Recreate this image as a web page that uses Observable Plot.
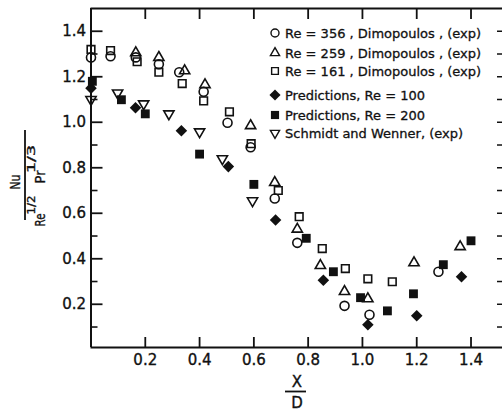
<!DOCTYPE html>
<html><head><meta charset="utf-8">
<script src="https://cdn.jsdelivr.net/npm/d3@7"></script>
<script src="https://cdn.jsdelivr.net/npm/@observablehq/plot@0.6"></script>
<style>
body{margin:0;background:#fff;}
#wrap{position:relative;width:502px;height:411px;overflow:hidden;font-family:"DejaVu Sans",sans-serif;}
#wrap svg text{stroke:#111;stroke-width:0.35px;}
#legend{position:absolute;left:268px;top:0;font-size:13px;color:#111;-webkit-text-stroke:0.3px #111;}
#legend .row{position:absolute;left:0;display:flex;align-items:center;height:18px;white-space:nowrap;transform:translateY(-9px);}
#legend svg{margin-right:3px;}
#legend svg path{stroke-width:1.4px;}
</style></head><body><div id="wrap"><div id="legend"></div></div>
<script>
// Re = 356, Dimopoulos (exp) — open circles
const re356X = [0.000, 0.072, 0.165, 0.250, 0.325, 0.415, 0.503, 0.588, 0.677, 0.760, 0.934, 1.026, 1.280];
const re356Y = [1.285, 1.290, 1.285, 1.255, 1.220, 1.134, 0.998, 0.890, 0.665, 0.470, 0.193, 0.154, 0.343];
// Re = 259 — open triangles
const re259X = [0.165, 0.250, 0.345, 0.420, 0.588, 0.677, 0.760, 0.845, 0.934, 1.020, 1.190, 1.360];
const re259Y = [1.305, 1.285, 1.226, 1.165, 0.985, 0.735, 0.530, 0.370, 0.256, 0.224, 0.382, 0.453];
// Re = 161 — open squares
const re161X = [0.000, 0.072, 0.170, 0.250, 0.336, 0.415, 0.510, 0.590, 0.690, 0.767, 0.852, 0.937, 1.020, 1.110];
const re161Y = [1.320, 1.315, 1.266, 1.220, 1.170, 1.094, 1.046, 0.906, 0.700, 0.585, 0.445, 0.357, 0.312, 0.299];
// Predictions Re = 100 — filled diamonds
const pred100X = [0.000, 0.164, 0.333, 0.506, 0.680, 0.856, 1.020, 1.200, 1.365];
const pred100Y = [1.150, 1.064, 0.963, 0.805, 0.570, 0.306, 0.110, 0.150, 0.321];
// Predictions Re = 200 — filled squares
const pred200X = [0.005, 0.112, 0.200, 0.400, 0.600, 0.793, 0.893, 0.993, 1.092, 1.188, 1.298, 1.400];
const pred200Y = [1.180, 1.099, 1.037, 0.860, 0.727, 0.490, 0.343, 0.229, 0.171, 0.246, 0.374, 0.479];
// Schmidt and Wenner (exp) — open down triangles
const swX = [0.000, 0.098, 0.194, 0.287, 0.400, 0.484, 0.595];
const swY = [1.100, 1.129, 1.081, 1.037, 0.958, 0.840, 0.655];

const xDomain = [0, 1.516];
const yDomain = [0.01, 1.5];
const xTicks = [0.2, 0.4, 0.6, 0.8, 1.0, 1.2, 1.4];
const yTicks = [0.2, 0.4, 0.6, 0.8, 1.0, 1.2, 1.4];
const yMinorTicks = [0.1, 0.3, 0.5, 0.7, 0.9, 1.1, 1.3];
const yRightTicks = [0.1, 0.2, 0.3, 0.4, 0.5, 0.6, 0.7, 0.8, 0.9, 1.0, 1.1, 1.2, 1.3, 1.4];

const legendLabels = [
  "Re = 356 , Dimopoulos , (exp)",
  "Re = 259 , Dimopoulos , (exp)",
  "Re = 161 , Dimopoulos , (exp)",
  "Predictions, Re = 100",
  "Predictions, Re = 200",
  "Schmidt and Wenner, (exp)"
];

const zip = (xs, ys) => xs.map((x, i) => ({x, y: ys[i]}));
const ink = "#111";
const sw = 1.6;

const W = 502, H = 411, mL = 90.5, mT = 8, mB = 64, mR = 0;
// pixel lengths of the inward ticks, converted to data units of each scale
const perPxX = (xDomain[1] - xDomain[0]) / (W - mL - mR);
const perPxY = (yDomain[1] - yDomain[0]) / (H - mT - mB);
const tickLX = (px) => px * perPxX;
const tickLY = (px) => px * perPxY;

const plot = Plot.plot({
  width: W, height: H,
  marginLeft: mL, marginTop: mT, marginBottom: mB, marginRight: mR,
  x: {domain: xDomain},
  y: {domain: yDomain},
  style: {fontFamily: "DejaVu Sans, sans-serif", fontSize: "15px", background: "white"},
  marks: [
    Plot.ruleX([xDomain[0]], {stroke: ink, strokeWidth: 2}),
    Plot.ruleY(yDomain, {stroke: ink, strokeWidth: 2}),
    Plot.ruleY(yTicks, {y: d => d, x1: xDomain[0], x2: xDomain[0] + tickLX(12), stroke: ink, strokeWidth: 1.8}),
    Plot.ruleY(yMinorTicks, {y: d => d, x1: xDomain[0], x2: xDomain[0] + tickLX(7), stroke: ink, strokeWidth: 1.6}),
    Plot.ruleY(yRightTicks, {y: d => d, x1: xDomain[1] - tickLX(5), x2: xDomain[1], stroke: ink, strokeWidth: 1.5}),
    Plot.ruleX(xTicks, {x: d => d, y1: yDomain[0], y2: yDomain[0] + tickLY(10), stroke: ink, strokeWidth: 1.8}),
    Plot.ruleX(xTicks, {x: d => d, y1: yDomain[1] - tickLY(11), y2: yDomain[1], stroke: ink, strokeWidth: 1.8}),
    Plot.axisY(yTicks, {tickSize: 0, tickPadding: 5, fill: ink, tickFormat: d => d.toFixed(1), label: null}),
    Plot.axisX(xTicks, {tickSize: 0, tickPadding: 7, fill: ink, tickFormat: d => d.toFixed(1), label: null}),
    Plot.dot(zip(re356X, re356Y), {x: "x", y: "y", symbol: "circle", r: 4.5, stroke: ink, strokeWidth: sw, fill: "none"}),
    Plot.dot(zip(re259X, re259Y), {x: "x", y: "y", symbol: "triangle", r: 3.8, stroke: ink, strokeWidth: sw, fill: "none"}),
    Plot.dot(zip(re161X, re161Y), {x: "x", y: "y", symbol: "square", r: 4.3, stroke: ink, strokeWidth: sw, fill: "none"}),
    Plot.dot(zip(pred100X, pred100Y), {x: "x", y: "y", symbol: "diamond2", r: 5.2, fill: ink, stroke: "none"}),
    Plot.dot(zip(pred200X, pred200Y), {x: "x", y: "y", symbol: "square", r: 5.0, fill: ink, stroke: "none"}),
    Plot.dot(zip(swX, swY), {x: "x", y: "y", symbol: "triangle", rotate: 180, r: 3.8, stroke: ink, strokeWidth: sw, fill: "none"})
  ]
});
const wrap = document.getElementById("wrap");
wrap.insertBefore(plot, wrap.firstChild);
const svg = d3.select(plot);

// Axis titles
const yt = svg.append("g").attr("transform", "translate(30,175) rotate(-90)")
  .attr("fill", ink).style("font-family", "DejaVu Sans, sans-serif");
const piece = (t, x, y, size, len) => yt.append("text").attr("x", x).attr("y", y)
  .style("font-size", size + "px").attr("textLength", len).attr("lengthAdjust", "spacingAndGlyphs").text(t);
piece("Nu", -7, -10, 14, 15);
yt.append("line").attr("x1", -45).attr("x2", 45).attr("y1", -5).attr("y2", -5).attr("stroke", ink).attr("stroke-width", 1.8);
piece("Re", -45, 15, 13.5, 13);
piece("1/2", -30, 5, 10, 19);
piece("Pr", -2, 15, 13.5, 13);
piece("1/3", 16, 5, 10, 28);

const xt = svg.append("g").attr("fill", ink).style("font-family", "DejaVu Sans, sans-serif").style("font-size", "15px");
xt.append("text").attr("x", 297).attr("y", 387).attr("text-anchor", "middle").text("X");
xt.append("line").attr("x1", 285).attr("x2", 306).attr("y1", 391.5).attr("y2", 391.5).attr("stroke", ink).attr("stroke-width", 1.8);
xt.append("text").attr("x", 297).attr("y", 408).attr("text-anchor", "middle").text("D");

// Legend
const legendRowY = [33, 53, 71, 95, 115, 133];
const legendSymbols = [
  {type: d3.symbolCircle, size: Math.PI * 4.0 * 4.0, fill: false, rot: 0},
  {type: d3.symbolTriangle, size: Math.PI * 3.4 * 3.4, fill: false, rot: 0},
  {type: d3.symbolSquare, size: Math.PI * 3.8 * 3.8, fill: false, rot: 0},
  {type: d3.symbolDiamond2, size: Math.PI * 5.0 * 5.0, fill: true, rot: 0},
  {type: d3.symbolSquare, size: Math.PI * 4.6 * 4.6, fill: true, rot: 0},
  {type: d3.symbolTriangle, size: Math.PI * 3.4 * 3.4, fill: false, rot: 180}
];
const leg = d3.select("#legend");
legendLabels.forEach((lab, i) => {
  const s = legendSymbols[i];
  const row = leg.append("div").attr("class", "row").style("top", legendRowY[i] + "px");
  const sv = row.append("svg").attr("width", 14).attr("height", 14);
  sv.append("path").attr("d", d3.symbol(s.type, s.size)())
    .attr("transform", `translate(7,7) rotate(${s.rot})`)
    .attr("fill", s.fill ? ink : "none").attr("stroke", s.fill ? "none" : ink);
  row.append("span").text(lab);
});
</script></body></html>
